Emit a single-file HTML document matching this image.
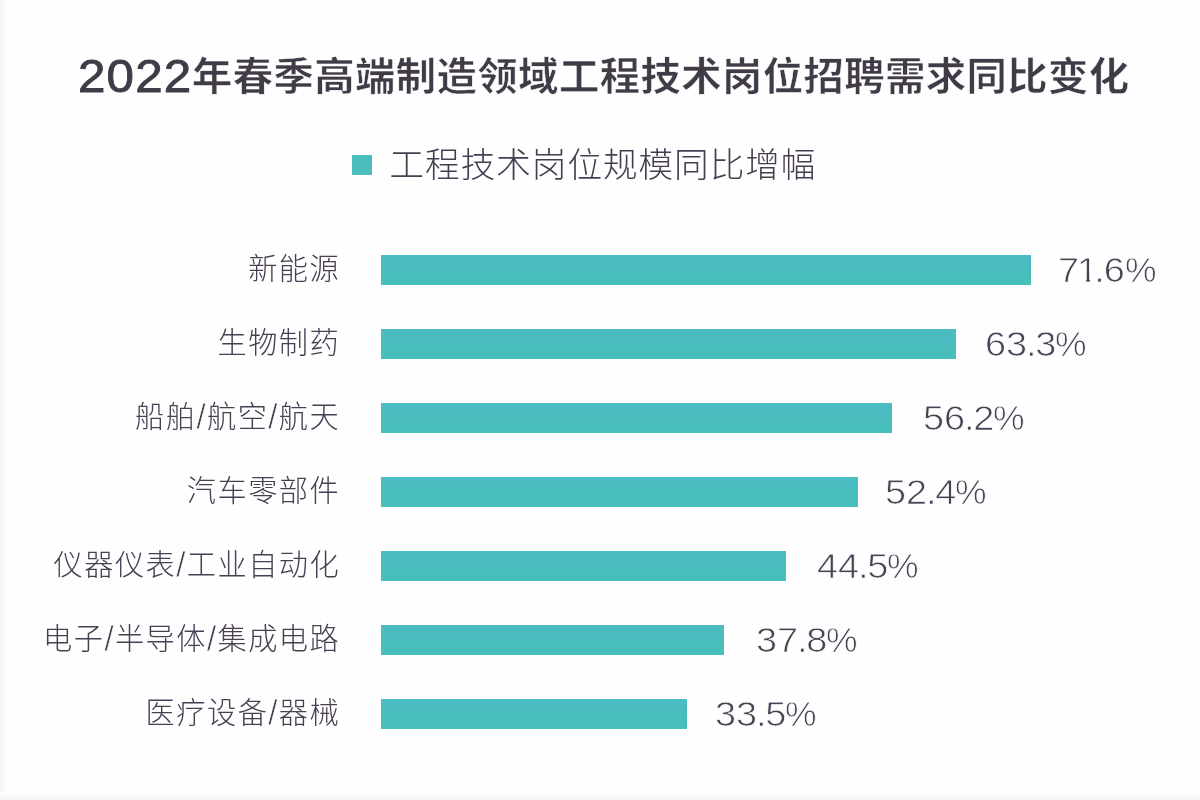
<!DOCTYPE html>
<html lang="zh-CN">
<head>
<meta charset="utf-8">
<title>2022年春季高端制造领域工程技术岗位招聘需求同比变化</title>
<style>
  html, body { margin: 0; padding: 0; }
  body {
    width: 1200px; height: 800px; overflow: hidden; position: relative;
    background: #fefefe;
    font-family: "Liberation Sans", "Noto Sans CJK SC", sans-serif;
    color: #4a4253;
  }
  .edge-l { position: absolute; left: 0; top: 0; width: 6px; height: 800px;
    background: linear-gradient(to right, #f3f3f6, #fefefe); }
  .edge-b { position: absolute; left: 0; top: 792px; width: 1200px; height: 8px;
    background: linear-gradient(to bottom, #fefefe, #f4f4f7); }
  .title-num {
    position: absolute; left: 77.5px; top: 45.5px; height: 60px; line-height: 60px;
    white-space: nowrap; font-weight: 400; font-size: 47px; color: #413b48;
    letter-spacing: 1.1px; -webkit-text-stroke: 0.9px #413b48;
    transform: scaleX(1.05); transform-origin: 0 50%;
  }
  .title {
    position: absolute; left: 192px; top: 47px; height: 60px; line-height: 60px;
    white-space: nowrap; font-weight: 700; font-size: 38.8px; color: #413b48; letter-spacing: 0.4px; -webkit-text-stroke: 0.5px #fefefe;
    transform: scaleX(1.04); transform-origin: 0 50%;
  }
  .legend-sq { position: absolute; left: 351.8px; top: 154.6px; width: 20.2px; height: 20.2px; background: #4bbdbe; }
  .legend-tx {
    position: absolute; left: 389.5px; top: 139.9px; height: 50px; line-height: 50px;
    font-size: 34.6px; letter-spacing: 1.0px; font-weight: 300; white-space: nowrap; color: #463d51;
  }
  .row { position: absolute; left: 0; width: 1200px; height: 30px; }
  .lab {
    position: absolute; right: 859.8px; top: -10.5px; height: 50px; line-height: 50px;
    font-size: 29.2px; letter-spacing: 1.5px; font-weight: 300; white-space: nowrap; color: #483f53;
  }
  .lab i { font-style: normal; margin: 0 -0.3px; font-size: 1.18em; line-height: 1; position: relative; top: 1.6px; -webkit-text-stroke: 0.8px #fefefe; }
  .bar { position: absolute; left: 380.5px; top: 0; height: 30px;
    background: linear-gradient(to bottom, #4bbcc3, #48bfb9); }
  .val {
    position: absolute; top: -10.1px; height: 50px; line-height: 50px;
    font-size: 34.5px; white-space: nowrap; color: #4a4155;
    -webkit-text-stroke: 0.75px #fefefe;
  }
  .val .d { position: absolute; left: -1px; top: 0; display: block;
    transform: scaleX(1.098); transform-origin: 0 50%; }
  .val .d b { font-weight: normal; margin: 0 -1.1px; }
  .val .d i { font-style: normal; display: inline-block; margin: 0 -2.2px 0 -2px;
    clip-path: polygon(0 0, 100% 0, 100% 55%, 61.5% 55%, 61.5% 100%, 44.5% 100%, 44.5% 55%, 0 55%); }
  .val .p { position: absolute; left: 69px; top: 0; display: block; transform: scaleX(1.028); transform-origin: 0 50%; }
</style>
</head>
<body>
<div class="edge-l"></div>
<div class="edge-b"></div>

<div class="title-num">2022</div>
<div class="title">年春季高端制造领域工程技术岗位招聘需求同比变化</div>

<div class="legend-sq"></div>
<div class="legend-tx">工程技术岗位规模同比增幅</div>

<div class="row" style="top:254.6px">
  <div class="lab">新能源</div>
  <div class="bar" style="width:650px"></div>
  <div class="val" style="left:1059.3px"><span class="d">7<i>1</i><b>.</b>6</span><span class="p" style="left:65.6px">%</span></div>
</div>
<div class="row" style="top:328.8px">
  <div class="lab">生物制药</div>
  <div class="bar" style="width:575.7px"></div>
  <div class="val" style="left:985.5px"><span class="d">63<b>.</b>3</span><span class="p">%</span></div>
</div>
<div class="row" style="top:402.9px">
  <div class="lab">船舶<i>/</i>航空<i>/</i>航天</div>
  <div class="bar" style="width:511.5px"></div>
  <div class="val" style="left:923.6px"><span class="d">56<b>.</b>2</span><span class="p">%</span></div>
</div>
<div class="row" style="top:476.9px">
  <div class="lab">汽车零部件</div>
  <div class="bar" style="width:477.2px"></div>
  <div class="val" style="left:885.6px"><span class="d">52<b>.</b>4</span><span class="p">%</span></div>
</div>
<div class="row" style="top:550.9px">
  <div class="lab">仪器仪表<i>/</i>工业自动化</div>
  <div class="bar" style="width:405.5px"></div>
  <div class="val" style="left:817.5px"><span class="d">44<b>.</b>5</span><span class="p">%</span></div>
</div>
<div class="row" style="top:624.9px">
  <div class="lab">电子<i>/</i>半导体<i>/</i>集成电路</div>
  <div class="bar" style="width:343.8px"></div>
  <div class="val" style="left:756.6px"><span class="d">37<b>.</b>8</span><span class="p">%</span></div>
</div>
<div class="row" style="top:698.9px">
  <div class="lab">医疗设备<i>/</i>器械</div>
  <div class="bar" style="width:306.2px"></div>
  <div class="val" style="left:715.5px"><span class="d">33<b>.</b>5</span><span class="p">%</span></div>
</div>
</body>
</html>
